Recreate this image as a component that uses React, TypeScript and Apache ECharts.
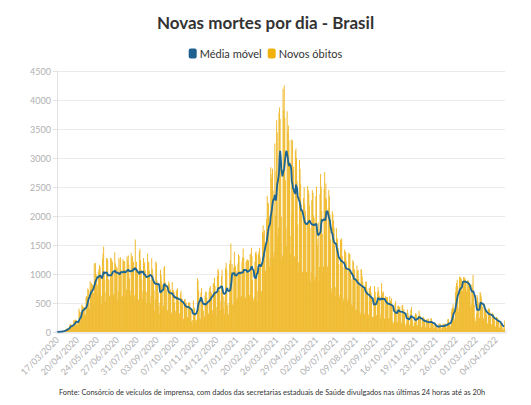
import React, { useEffect, useRef } from "react";
import * as echarts from "echarts";

const TITLE = "Novas mortes por dia - Brasil";
const SOURCE =
  "Fonte: Consórcio de veículos de imprensa, com dados das secretarias estaduais de Saúde divulgados nas últimas 24 horas até as 20h";
const START_DATE = [2020, 3, 17];

// daily new deaths, one row per week starting Tue 17/03/2020
const newDeaths: number[] = [
  1, 3, 1, 4, 7, 9, 9,
  12, 13, 20, 15, 22, 23, 22,
  42, 40, 58, 60, 73, 54, 67,
  114, 133, 141, 115, 68, 99, 105,
  204, 204, 188, 217, 206, 115, 113,
  166, 165, 407, 357, 346, 189, 338,
  474, 449, 435, 428, 421, 275, 296,
  600, 615, 610, 751, 730, 496, 396,
  881, 749, 844, 824, 816, 485, 674,
  1179, 888, 1188, 1001, 965, 653, 807,
  1039, 1086, 1156, 1124, 956, 480, 623,
  1262, 1349, 1473, 1005, 904, 525, 679,
  1272, 1274, 1239, 909, 892, 612, 627,
  1282, 1269, 1238, 1206, 1022, 641, 654,
  1374, 1185, 1141, 1109, 1111, 552, 692,
  1280, 1038, 1252, 1290, 1071, 602, 620,
  1254, 1223, 1220, 1214, 1071, 631, 733,
  1300, 1233, 1322, 1163, 921, 716, 632,
  1367, 1284, 1311, 1156, 1211, 555, 632,
  1595, 1129, 1212, 1088, 1048, 541, 561,
  1394, 1437, 1237, 1079, 905, 572, 703,
  1274, 1175, 1204, 1060, 709, 494, 684,
  1352, 1212, 1204, 1054, 892, 494, 620,
  1271, 1085, 984, 855, 719, 366, 560,
  1215, 1184, 888, 855, 682, 447, 310,
  504, 1075, 983, 874, 814, 415, 456,
  1113, 1136, 858, 829, 739, 363, 377,
  809, 869, 831, 729, 733, 335, 317,
  863, 729, 723, 691, 510, 366, 317,
  711, 734, 754, 605, 530, 301, 324,
  658, 713, 580, 571, 491, 230, 201,
  571, 566, 497, 510, 432, 256, 231,
  510, 513, 496, 413, 359, 185, 121,
  208, 541, 349, 419, 313, 186, 211,
  201, 926, 883, 716, 524, 235, 216,
  676, 754, 591, 552, 370, 190, 267,
  630, 698, 691, 587, 484, 272, 317,
  697, 755, 795, 694, 667, 313, 376,
  842, 837, 935, 796, 686, 279, 433,
  964, 1092, 1054, 770, 708, 381, 525,
  963, 1075, 680, 414, 611, 314, 524,
  1111, 1194, 1074, 462, 314, 293, 495,
  1171, 1242, 1524, 1035, 1171, 469, 480,
  1110, 1382, 1151, 1131, 1050, 551, 591,
  1183, 1340, 1316, 1054, 1050, 592, 627,
  1214, 1283, 1439, 1279, 1068, 595, 595,
  1209, 1232, 1254, 1239, 1232, 595, 636,
  1350, 1330, 1452, 1308, 898, 569, 530,
  600, 1211, 1367, 1386, 1337, 527, 706,
  1341, 1386, 1451, 1286, 1175, 698, 705,
  1726, 1840, 1699, 1760, 1555, 1054, 987,
  1954, 2349, 2233, 2216, 1997, 1127, 1275,
  2841, 2648, 2724, 2815, 2438, 1290, 1383,
  3251, 2009, 2777, 3650, 3438, 1656, 1800,
  3780, 3869, 3673, 2922, 1987, 1240, 1319,
  4195, 3829, 4249, 3693, 2616, 1803, 1480,
  3808, 3459, 3560, 3305, 2929, 1657, 1347,
  3321, 2027, 3305, 2761, 2850, 1305, 1279,
  3120, 3163, 3001, 2595, 1855, 1202, 1024,
  2966, 2811, 2550, 2202, 1990, 1024, 1044,
  2311, 2495, 2202, 2087, 1877, 1036, 1003,
  2517, 2448, 2383, 2178, 1795, 868, 1032,
  2273, 2445, 2396, 2012, 1965, 890, 950,
  2346, 2507, 1600, 1500, 1889, 880, 1120,
  2378, 2723, 2504, 2087, 1688, 1018, 1130,
  2468, 2760, 2311, 2560, 2301, 1025, 1129,
  2131, 2449, 2343, 2032, 1593, 750, 681,
  2081, 2029, 1924, 1801, 1500, 617, 770,
  1787, 1623, 1599, 1449, 1173, 593, 641,
  1595, 1573, 1613, 1310, 1120, 542, 592,
  1424, 1388, 1366, 1224, 1108, 531, 578,
  1367, 1340, 1344, 1085, 910, 475, 452,
  1240, 1209, 1029, 1082, 903, 372, 389,
  1148, 1056, 1068, 923, 853, 339, 306,
  1085, 1074, 953, 870, 752, 329, 300,
  808, 870, 868, 740, 694, 259, 303,
  757, 756, 792, 686, 568, 251, 258,
  266, 498, 791, 692, 599, 281, 293,
  677, 778, 705, 628, 595, 229, 311,
  839, 648, 680, 698, 595, 225, 233,
  627, 597, 586, 603, 514, 226, 255,
  615, 531, 543, 577, 471, 180, 144,
  161, 406, 481, 530, 382, 176, 158,
  453, 451, 433, 437, 347, 168, 148,
  453, 470, 357, 398, 311, 130, 96,
  145, 201, 388, 329, 279, 78, 130,
  297, 385, 431, 230, 204, 109, 90,
  159, 288, 324, 316, 282, 118, 108,
  275, 366, 303, 272, 222, 79, 85,
  244, 263, 245, 225, 186, 78, 80,
  219, 185, 230, 219, 188, 70, 71,
  232, 236, 186, 151, 129, 56, 70,
  160, 130, 129, 82, 30, 60, 88,
  150, 125, 145, 112, 40, 59, 81,
  147, 140, 130, 148, 116, 44, 78,
  157, 221, 224, 174, 136, 63, 104,
  351, 400, 420, 480, 410, 200, 230,
  690, 780, 846, 900, 780, 340, 420,
  955, 930, 945, 920, 880, 700, 760,
  950, 940, 930, 900, 860, 690, 740,
  900, 880, 850, 800, 690, 430, 480,
  820, 760, 983, 640, 470, 250, 190,
  150, 320, 640, 600, 510, 230, 240,
  690, 670, 610, 520, 430, 200, 230,
  480, 460, 420, 380, 300, 140, 150,
  400, 410, 390, 340, 280, 120, 140,
  330, 310, 300, 260, 200, 90, 100,
  260, 250, 240, 210, 160, 70, 80,
  170, 150, 140, 60, 80, 35, 50,
  200,
];

const Y_TICKS = [0, 500, 1000, 1500, 2000, 2500, 3000, 3500, 4000, 4500];

const pad = (n: number) => (n < 10 ? "0" + n : "" + n);

function buildDates(count: number): string[] {
  const out: string[] = [];
  const d = new Date(Date.UTC(START_DATE[0], START_DATE[1] - 1, START_DATE[2]));
  for (let i = 0; i < count; i++) {
    out.push(`${pad(d.getUTCDate())}/${pad(d.getUTCMonth() + 1)}/${d.getUTCFullYear()}`);
    d.setUTCDate(d.getUTCDate() + 1);
  }
  return out;
}

// 7-day trailing moving average of the daily values
function movingAverage(v: number[]): number[] {
  return v.map((_, i) => {
    const s = Math.max(0, i - 6);
    const w = v.slice(s, i + 1);
    return Math.round(w.reduce((a, b) => a + b, 0) / w.length);
  });
}

const FONT = "Lato, 'Noto Sans', sans-serif";

export default function App() {
  const ref = useRef<HTMLDivElement>(null);
  useEffect(() => {
    document.body.style.margin = "0";
    if (!ref.current) return;
    const chart = echarts.init(ref.current, undefined, { renderer: "svg" });
    const dates = buildDates(newDeaths.length);
    const avg = movingAverage(newDeaths);
    chart.setOption({
      animation: false,
      textStyle: { fontFamily: FONT },
      title: {
        text: TITLE,
        left: "center",
        top: 9,
        textStyle: { fontSize: 17, fontWeight: "bold", color: "#333", fontFamily: FONT },
      },
      legend: {
        top: 43,
        left: "center",
        itemWidth: 8,
        itemHeight: 10,
        itemGap: 6,
        icon: "roundRect",
        textStyle: { fontSize: 11, color: "#333", fontFamily: FONT, padding: [0, 0, 0, -2] },
        data: [
          { name: "Média móvel", itemStyle: { color: "#1d6190" } },
          { name: "Novos óbitos", itemStyle: { color: "#f0b10a" } },
        ],
      },
      grid: { left: 57, right: 26, top: 71, bottom: 73, containLabel: false },
      xAxis: {
        type: "category",
        data: dates,
        boundaryGap: true,
        axisLine: { show: true, lineStyle: { color: "#ececec", width: 4 } },
        axisTick: { show: false },
        axisLabel: {
          interval: 33,
          rotate: 45,
          fontSize: 9,
          color: "#b0b0b0",
          fontFamily: FONT,
          margin: 6,
        },
        splitLine: { show: false },
      },
      yAxis: {
        type: "value",
        min: Y_TICKS[0],
        max: Y_TICKS[Y_TICKS.length - 1],
        interval: 500,
        axisLine: { show: true, lineStyle: { color: "#e2e2e2", width: 1 } },
        axisTick: { show: true, length: 4, lineStyle: { color: "#e2e2e2" } },
        axisLabel: {
          fontSize: 9,
          color: "#b0b0b0",
          fontFamily: FONT,
          margin: 6,
          formatter: (v: number) => String(v),
        },
        splitLine: { lineStyle: { color: "#ebebeb", width: 1 } },
      },
      series: [
        {
          name: "Novos óbitos",
          type: "bar",
          data: newDeaths,
          barCategoryGap: "15%",
          itemStyle: { color: "#f0bb30" },
          z: 2,
        },
        {
          name: "Média móvel",
          type: "line",
          data: avg,
          showSymbol: false,
          symbol: "none",
          lineStyle: { color: "#1d6592", width: 1.8 },
          itemStyle: { color: "#1d6592" },
          z: 3,
        },
      ],
      graphic: [
        {
          type: "text",
          left: 59,
          top: 389,
          style: { text: SOURCE, fontSize: 7.4, fill: "#333", fontFamily: FONT },
        },
      ],
    });
    return () => chart.dispose();
  }, []);
  return <div ref={ref} style={{ width: 531, height: 405 }} />;
}
